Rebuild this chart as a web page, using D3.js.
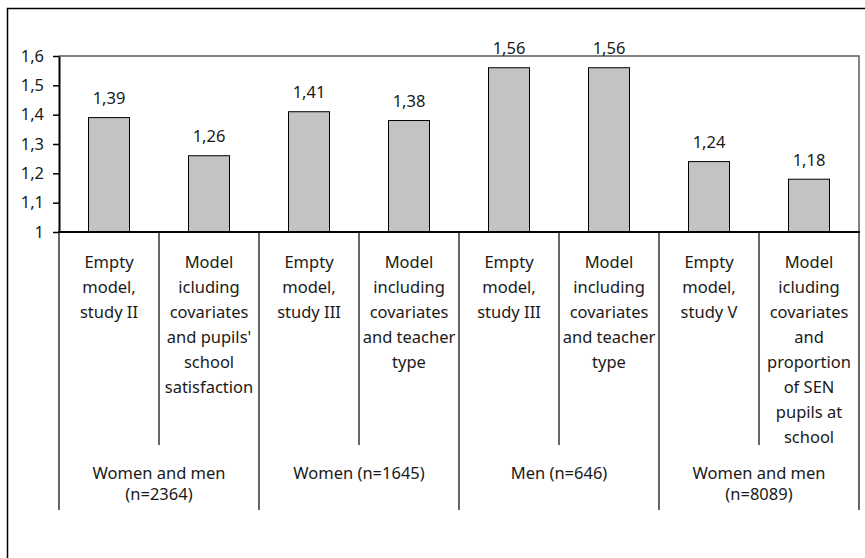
<!DOCTYPE html>
<html>
<head>
<meta charset="utf-8">
<script src="https://cdn.jsdelivr.net/npm/d3@7"></script>
<style>
  html, body { margin: 0; padding: 0; background: #fff; }
  svg { display: block; }
  text { font-family: "Noto Sans", "Open Sans", sans-serif; fill: #1a1a1a; }
</style>
</head>
<body>
<svg id="chart" width="865" height="558"></svg>
<script>
// ---- data ----
const values = [1.39, 1.26, 1.41, 1.38, 1.56, 1.56, 1.24, 1.18];
const categoryLabels = [
  ["Empty", "model,", "study II"],
  ["Model", "icluding", "covariates", "and pupils'", "school", "satisfaction"],
  ["Empty", "model,", "study III"],
  ["Model", "including", "covariates", "and teacher", "type"],
  ["Empty", "model,", "study III"],
  ["Model", "including", "covariates", "and teacher", "type"],
  ["Empty", "model,", "study V"],
  ["Model", "icluding", "covariates", "and", "proportion", "of SEN", "pupils at", "school"]
];
const groupLabels = [
  ["Women and men", "(n=2364)"],
  ["Women (n=1645)"],
  ["Men (n=646)"],
  ["Women and men", "(n=8089)"]
];
const groupSizes = [2, 2, 2, 2];
const yTicks = [1, 1.1, 1.2, 1.3, 1.4, 1.5, 1.6];

(function () {
// ---- layout ----
const svg = d3.select("#chart");
const pLeft = 59, pRight = 859, pTop = 56, pBottom = 232;
const FS = 16.5;
const idx = values.map((d, i) => i);

const x = d3.scaleBand().domain(idx).range([pLeft, pRight]).paddingInner(0.59).paddingOuter(0.295);
const xCat = d3.scaleBand().domain(idx).range([pLeft, pRight]).padding(0);
const y = d3.scaleLinear().domain([1, 1.6]).range([pBottom, pTop]);
const fmt = d => d3.format(".2~f")(d).replace(".", ",");

// outer frame (right/bottom edges fall outside the picture)
svg.append("rect").attr("x", 7.5).attr("y", 8.5).attr("width", 862).attr("height", 560)
  .attr("fill", "none").attr("stroke", "#000").attr("stroke-width", 1.5);

// plot area border (top/right)
svg.append("path")
  .attr("d", `M${pLeft},${pTop}H${pRight}V${pBottom}`)
  .attr("fill", "none").attr("stroke", "#5a5a5a").attr("stroke-width", 1.5);

// bars
svg.selectAll("rect.bar").data(values).join("rect")
  .attr("class", "bar")
  .attr("x", (d, i) => x(i))
  .attr("width", x.bandwidth())
  .attr("y", d => y(d))
  .attr("height", d => y(1) - y(d))
  .attr("fill", "#c3c3c3").attr("stroke", "#000").attr("stroke-width", 1);

// value labels
svg.selectAll("text.val").data(values).join("text")
  .attr("class", "val")
  .attr("x", (d, i) => x(i) + x.bandwidth() / 2)
  .attr("y", d => y(d) - 13.5)
  .attr("text-anchor", "middle")
  .attr("font-size", FS)
  .text(d => fmt(d));

// y axis
const yAxis = d3.axisLeft(y).tickValues(yTicks).tickFormat(fmt).tickSize(6).tickSizeOuter(0).tickPadding(9);
const gy = svg.append("g").attr("transform", `translate(${pLeft},0)`).call(yAxis);
gy.select(".domain").attr("stroke", "#000").attr("stroke-width", 2);
gy.selectAll(".tick line").attr("stroke", "#000").attr("stroke-width", 1.5);
gy.selectAll(".tick text").attr("font-size", FS).attr("font-family", "Noto Sans, sans-serif").attr("fill", "#1a1a1a");

// x axis baseline
svg.append("line").attr("x1", pLeft - 1).attr("x2", pRight + 1).attr("y1", pBottom).attr("y2", pBottom)
  .attr("stroke", "#000").attr("stroke-width", 2);

// category separators
const groupEnds = [];
let acc = 0;
groupSizes.forEach(s => { groupEnds.push(acc); acc += s; });
groupEnds.push(acc);
const boundaries = d3.range(values.length + 1);
svg.selectAll("line.sep").data(boundaries).join("line")
  .attr("class", "sep")
  .attr("x1", i => i < values.length ? xCat(i) : pRight)
  .attr("x2", i => i < values.length ? xCat(i) : pRight)
  .attr("y1", pBottom)
  .attr("y2", i => groupEnds.includes(i) ? 510 : 445)
  .attr("stroke", "#000").attr("stroke-width", 1.2);

// category labels
const catG = svg.selectAll("text.cat").data(categoryLabels).join("text")
  .attr("class", "cat")
  .attr("text-anchor", "middle")
  .attr("font-size", FS);
catG.each(function(lines, i) {
  const t = d3.select(this);
  lines.forEach((ln, k) => {
    t.append("tspan")
      .attr("x", xCat(i) + xCat.bandwidth() / 2)
      .attr("y", 268 + k * 25)
      .text(ln);
  });
});

// group labels
const grpG = svg.selectAll("text.grp").data(groupLabels).join("text")
  .attr("class", "grp")
  .attr("text-anchor", "middle")
  .attr("font-size", FS);
grpG.each(function(lines, g) {
  const t = d3.select(this);
  const start = groupEnds[g], end = groupEnds[g + 1];
  const cx = (xCat(start) + (end < values.length ? xCat(end) : pRight)) / 2;
  lines.forEach((ln, k) => {
    t.append("tspan").attr("x", cx).attr("y", 479 + k * 21).text(ln);
  });
});
})();
</script>
</body>
</html>
